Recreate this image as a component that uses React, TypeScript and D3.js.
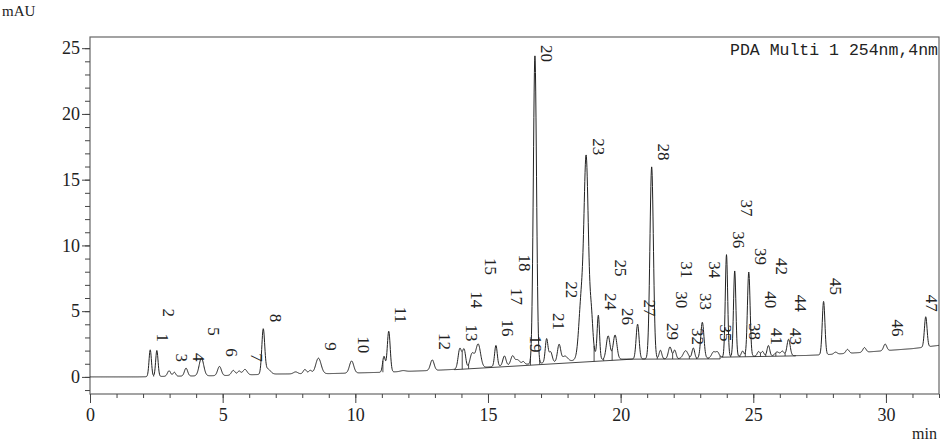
import React, { useRef, useEffect } from 'react';
import * as d3 from 'd3';

// retention time (min), height above baseline (mAU), width (sigma, min)
const peakRT = [2.27, 2.52, 2.98, 3.18, 3.62, 4.2, 4.88, 5.4, 5.62, 5.84, 6.53, 6.7, 7.75, 8.1, 8.3, 8.61, 9.86, 11.08, 11.26, 11.8, 12.9,
  13.94, 14.1, 14.4, 14.63, 15.3, 15.62, 15.93, 16.1, 16.2, 16.33, 16.77, 17.21, 17.36, 17.68, 17.9, 18.5, 18.7, 18.7, 18.9,
  19.16, 19.53, 19.79, 20.64, 21.17, 21.5, 21.86, 22.04, 22.45, 22.74, 23.08, 23.5, 23.65, 23.99, 24.3, 24.6, 24.83,
  25.2, 25.35, 25.57, 25.9, 26.1, 26.33, 27.65, 28.1, 28.55, 29.19, 29.97, 31.5];
const peakHeight = [2.04, 1.98, 0.42, 0.3, 0.6, 1.35, 0.7, 0.37, 0.3, 0.42, 3.38, 0.4, 0.15, 0.33, 0.25, 1.18, 0.92, 1.2, 3.1, 0.07, 0.8,
  1.55, 1.45, 1.1, 1.8, 1.6, 0.75, 0.72, 0.35, 0.15, 0.22, 23.4, 1.8, 0.8, 1.3, 0.4, 2.5, 10.5, 5, 1.5,
  3.3, 1.8, 1.85, 2.65, 14.6, 0.65, 0.9, 0.65, 0.6, 0.8, 2.75, 0.45, 0.4, 7.75, 6.5, 0.4, 6.4,
  0.35, 0.35, 0.8, 0.3, 0.35, 1.25, 4.05, 0.15, 0.3, 0.35, 0.5, 2.3];
const peakSigma = [0.045, 0.045, 0.06, 0.05, 0.06, 0.085, 0.07, 0.07, 0.06, 0.08, 0.055, 0.1, 0.08, 0.06, 0.06, 0.1, 0.08, 0.05, 0.055, 0.1, 0.07,
  0.065, 0.06, 0.08, 0.09, 0.05, 0.06, 0.07, 0.06, 0.05, 0.05, 0.06, 0.05, 0.06, 0.06, 0.1, 0.08, 0.075, 0.16, 0.05,
  0.045, 0.07, 0.07, 0.055, 0.065, 0.05, 0.06, 0.05, 0.09, 0.05, 0.06, 0.07, 0.06, 0.045, 0.045, 0.05, 0.05,
  0.05, 0.05, 0.05, 0.08, 0.06, 0.06, 0.05, 0.06, 0.06, 0.06, 0.06, 0.05];

// baseline drift
const driftT = [0, 1.8, 3, 5, 7, 9, 11, 13, 14, 15, 16, 17, 18, 19, 20, 21, 23, 23.5, 24, 26, 27, 28, 29, 30, 31, 32];
const driftV = [0, 0, 0.05, 0.1, 0.22, 0.25, 0.35, 0.5, 0.6, 0.75, 0.9, 1.05, 1.2, 1.3, 1.35, 1.37, 1.4, 1.45, 1.55, 1.6, 1.63, 1.72, 1.85, 2.0, 2.15, 2.4];

// integration baselines
const segT0 = [13.73, 20.45, 23.8];
const segT1 = [20.45, 23.75, 26.6];
const segV0 = [0.55, 1.35, 1.5];
const segV1 = [1.35, 1.37, 1.6];

// peak drop lines (min)
const dropT = [2.4, 11.04, 13.73, 14.03, 14.27, 16.6, 16.95, 19.0, 19.36, 19.68, 20.45, 20.93, 21.38, 21.62, 21.96, 22.17,
  22.59, 22.86, 23.3, 23.75, 23.85, 24.15, 24.5, 24.7, 25.08, 25.27, 25.47, 25.85, 26.2, 26.6];

// peak number labels
const labelText = d3.range(1, 48).map(String);
const labelRT = [2.27, 2.52, 2.98, 3.62, 4.2, 4.88, 5.84, 6.53, 8.61, 9.86, 11.26, 12.9, 13.94, 14.1, 14.63, 15.3, 15.62, 15.93,
  16.33, 16.77, 17.21, 17.68, 18.7, 19.16, 19.53, 19.79, 20.64, 21.17, 21.5, 21.86, 22.04, 22.45, 22.74, 23.08, 23.5,
  23.99, 24.3, 24.6, 24.83, 25.18, 25.43, 25.62, 26.12, 26.33, 27.65, 29.97, 31.27];
const labelLevel = [2.97, 4.87, 1.45, 1.5, 3.45, 1.85, 1.47, 4.47, 2.31, 2.44, 4.72, 2.69, 3.33, 5.86, 8.4, 3.71, 6.12, 8.66,
  2.51, 24.6, 4.21, 6.63, 17.5, 5.73, 8.28, 4.59, 5.23, 17.1, 3.45, 5.86, 8.15, 3.07, 5.73, 8.15, 3.33,
  10.43, 12.85, 3.45, 9.16, 5.86, 3.07, 8.4, 3.07, 5.61, 6.88, 3.71, 5.61];

const W = 941, H = 442;
const left = 90, right = 939, top = 37, bottom = 394;
const serif = '"Liberation Serif", "DejaVu Serif", serif';

export default function App() {
  const xAxisRef = useRef<SVGGElement>(null);
  const yAxisRef = useRef<SVGGElement>(null);

  const x = d3.scaleLinear().domain([0, 32]).range([left, right]);
  const y = d3.scaleLinear().domain([-1.3, 25.85]).range([bottom, top]);
  const drift = d3.scaleLinear().domain(driftT).range(driftV).clamp(true);

  const signal = (t: number) => {
    let v = drift(t);
    for (let i = 0; i < peakRT.length; i++) {
      const d = (t - peakRT[i]) / peakSigma[i];
      v += peakHeight[i] * Math.exp(-0.5 * d * d);
    }
    return v;
  };
  const under = (t: number) => {
    for (let i = 0; i < segT0.length; i++) {
      if (t >= segT0[i] && t <= segT1[i]) {
        return segV0[i] + (segV1[i] - segV0[i]) * (t - segT0[i]) / (segT1[i] - segT0[i]);
      }
    }
    return drift(t);
  };

  const times = d3.range(0, 32.0001, 0.01);
  const line = d3.line<number>().x(t => x(t)).y(t => y(signal(t)));

  useEffect(() => {
    const gx = d3.select(xAxisRef.current);
    gx.selectAll('*').remove();
    gx.append('g').call(d3.axisBottom(x).tickValues(d3.range(0, 33)).tickSize(4).tickFormat(() => ''));
    gx.append('g').call(d3.axisBottom(x).tickValues(d3.range(0, 31, 5)).tickSize(9).tickPadding(5).tickFormat(d3.format('d')));
    gx.selectAll('.domain').remove();
    gx.selectAll('line').attr('stroke', '#444');
    gx.selectAll('text').attr('font-family', serif).attr('font-size', 18).attr('fill', '#222');

    const gy = d3.select(yAxisRef.current);
    gy.selectAll('*').remove();
    gy.append('g').call(d3.axisLeft(y).tickValues(d3.range(-1, 26)).tickSize(5).tickFormat(() => ''));
    gy.append('g').call(d3.axisLeft(y).tickValues(d3.range(0, 26, 5)).tickSize(8).tickPadding(2).tickFormat(d3.format('d')));
    gy.selectAll('.domain').remove();
    gy.selectAll('line').attr('stroke', '#444');
    gy.selectAll('text').attr('font-family', serif).attr('font-size', 18).attr('fill', '#222');
  }, []);

  return (
    <svg width={W} height={H} style={{ position: 'absolute', left: 0, top: 0, background: '#fff' }}>
      <rect x={left} y={top} width={right - left} height={bottom - top} fill="none" stroke="#666" strokeWidth={1.2} />
      <g ref={xAxisRef} transform={`translate(0,${bottom})`} />
      <g ref={yAxisRef} transform={`translate(${left},0)`} />

      {segT0.map((t0, i) => (
        <line key={'s' + i} x1={x(t0)} y1={y(segV0[i])} x2={x(segT1[i])} y2={y(segV1[i])} stroke="#333" strokeWidth={0.9} />
      ))}
      {dropT.map((t, i) => (
        <line key={'d' + i} x1={x(t)} x2={x(t)} y1={y(under(t))} y2={y(signal(t))} stroke="#333" strokeWidth={0.9} />
      ))}

      <path d={line(times) || ''} fill="none" stroke="#222" strokeWidth={1} />

      {labelText.map((s, i) => {
        const cx = x(labelRT[i]) + 12;
        const cy = y(labelLevel[i]);
        return (
          <text key={'l' + i} x={cx} y={cy} transform={`rotate(90,${cx},${cy})`} textAnchor="middle"
            dominantBaseline="central" fontFamily={serif} fontSize={17} fill="#222">{s}</text>
        );
      })}

      <text x={938} y={55} textAnchor="end" fontFamily='"Liberation Mono", "DejaVu Sans Mono", monospace' fontSize={16.5} fill="#222">
        PDA Multi 1 254nm,4nm
      </text>
      <text x={2} y={16} fontFamily={serif} fontSize={15} fill="#222">mAU</text>
      <text x={937} y={439} textAnchor="end" fontFamily={serif} fontSize={16} fill="#222">min</text>
    </svg>
  );
}
